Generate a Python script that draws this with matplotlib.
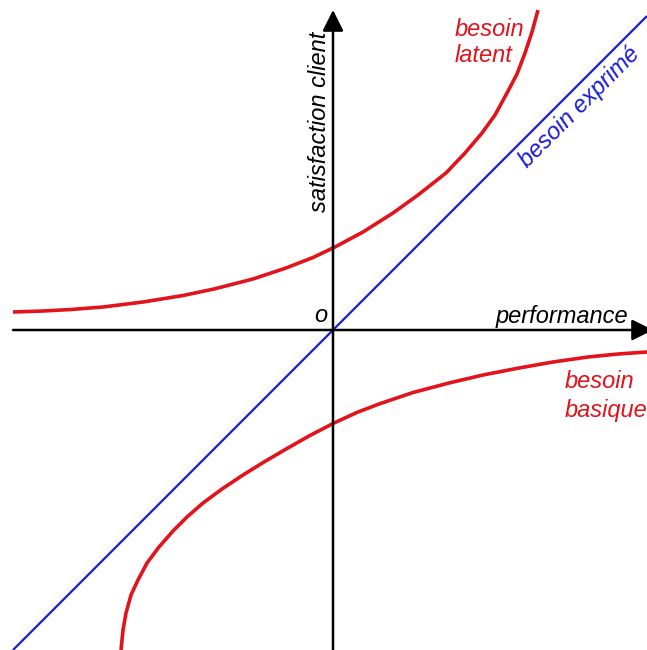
import matplotlib
matplotlib.use('Agg')
import matplotlib.pyplot as plt

plt.rcParams['font.family'] = ['Liberation Sans', 'DejaVu Sans']

###############################################################################
# Data (units = pixels measured from the origin, y up)
latent_x = [-320, -290, -262, -230, -190, -150, -119, -80, -47, -20, 2,
            30, 60, 85, 113, 132, 149, 162, 174, 184, 192, 199, 205]
latent_y = [18, 19, 20.5, 23, 28, 34.5, 41, 51, 62, 72.5, 83,
            98, 117, 135, 157, 177, 197, 215, 237, 256, 277, 298, 320]

basique_x = [-212, -210, -207, -202, -195, -186, -174, -160, -146, -130, -111,
             -90, -69, -46, -24, 1, 25, 46, 80, 116, 150, 186, 220, 255, 285, 314]
basique_y = [-320, -300, -283, -265, -250, -233, -217, -201, -187, -173, -159,
             -145, -132, -118.5, -106, -93, -82, -74, -62.5, -53, -45, -38, -32, -27, -24, -22]

exprime_x = [-320, 314]
exprime_y = [-320, 314]

RED = '#e3131b'
BLUE = '#1b1bd6'
###############################################################################

fig = plt.figure(figsize=(6.47, 6.5), dpi=100)
ax = fig.add_axes([0, 0, 1, 1])
ax.set_xlim(-333, 314)
ax.set_ylim(-320, 330)
ax.axis('off')

# axes with arrows
ax.annotate('', xy=(0, 320), xytext=(0, -322), annotation_clip=False,
            arrowprops=dict(arrowstyle='-|>', lw=1.8, color='black',
                            mutation_scale=32, shrinkA=0, shrinkB=0))
ax.annotate('', xy=(320, 0), xytext=(-320, 0), annotation_clip=False,
            arrowprops=dict(arrowstyle='-|>', lw=1.8, color='black',
                            mutation_scale=32, shrinkA=0, shrinkB=0))

# curves
ax.plot(exprime_x, exprime_y, color=BLUE, lw=1.6, solid_capstyle='butt')
ax.plot(latent_x, latent_y, color=RED, lw=2.6, solid_capstyle='butt', solid_joinstyle='round')
ax.plot(basique_x, basique_y, color=RED, lw=2.6, solid_capstyle='butt', solid_joinstyle='round')

# labels
fs = 17
ax.text(122, 301, 'besoin', color=RED, fontsize=fs, style='italic', ha='left', va='center')
ax.text(122, 274, 'latent', color=RED, fontsize=fs, style='italic', ha='left', va='center')
ax.text(232, -51, 'besoin', color=RED, fontsize=fs, style='italic', ha='left', va='center')
ax.text(232, -80, 'basique', color=RED, fontsize=fs, style='italic', ha='left', va='center')
ax.text(247, 223, 'besoin exprimé', color=BLUE, fontsize=fs, style='italic',
        rotation=45, ha='center', va='center')
ax.text(295, 7, 'performance', color='black', fontsize=fs, style='italic',
        ha='right', va='baseline')
ax.text(-6, 8, 'o', color='black', fontsize=fs, style='italic', ha='right', va='baseline')
ax.text(-13, 208, 'satisfaction client', color='black', fontsize=fs, style='italic',
        rotation=90, ha='center', va='center')

plt.savefig('out.png', dpi=100)
